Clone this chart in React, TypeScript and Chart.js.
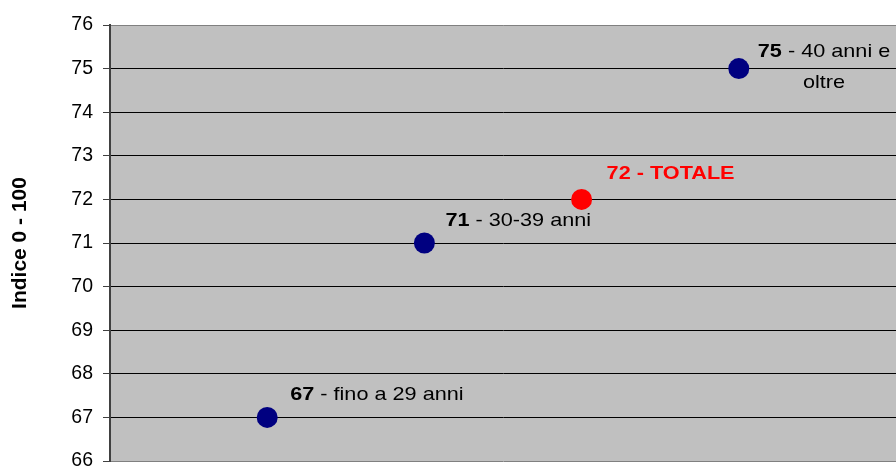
import React, { useEffect, useRef } from "react";
import { Chart, registerables } from "chart.js";

Chart.register(...registerables);

const xPositions = [1, 2, 3, 4];
const values = [67, 71, 72, 75];
const valueLabels = ["67", "71", "72", "75"];
const descriptionLines = [["fino a 29 anni"], ["30-39 anni"], ["TOTALE"], ["40 anni e", "oltre"]];
const highlightIndex = 2;
const yTicks = [66, 67, 68, 69, 70, 71, 72, 73, 74, 75, 76];
const yTitle = "Indice 0 - 100";

const NAVY = "#000080";
const RED = "#FF0000";
const FONT = "'Liberation Sans', Arial, sans-serif";

// label placement (style): offset of label block start from point, and line centres
const labelStyle = [
  { dx: 23, dy: [-23] },
  { dx: 21, dy: [-22] },
  { dx: 25, dy: [-26] },
  { dx: 19, dy: [-17, 14] },
];
const LABEL_SIZE = 19;
const LABEL_STRETCH = 1.14;

const bgPlugin = {
  id: "plotBg",
  beforeDraw(chart: any) {
    const { ctx, chartArea } = chart;
    ctx.save();
    ctx.fillStyle = "#C0C0C0";
    ctx.fillRect(chartArea.left, chartArea.top, chartArea.right - chartArea.left, chartArea.bottom - chartArea.top);
    ctx.restore();
  },
};

const labelPlugin = {
  id: "pointLabels",
  afterDatasetsDraw(chart: any) {
    const { ctx } = chart;
    const meta = chart.getDatasetMeta(0);
    ctx.save();
    ctx.textBaseline = "middle";
    ctx.textAlign = "left";
    const bold = `bold ${LABEL_SIZE}px ${FONT}`;
    const normal = `${LABEL_SIZE}px ${FONT}`;
    meta.data.forEach((pt: any, i: number) => {
      const st = labelStyle[i];
      const isHi = i === highlightIndex;
      const lines = descriptionLines[i];
      const segs: { text: string; font: string }[][] = lines.map((ln, li) => {
        if (li === 0) {
          if (isHi) return [{ text: `${valueLabels[i]} - ${ln}`, font: bold }];
          return [
            { text: valueLabels[i], font: bold },
            { text: ` - ${ln}`, font: normal },
          ];
        }
        return [{ text: ln, font: isHi ? bold : normal }];
      });
      const widths = segs.map((s) =>
        s.reduce((w, seg) => {
          ctx.font = seg.font;
          return w + ctx.measureText(seg.text).width;
        }, 0)
      );
      const blockW = Math.max(...widths);
      const startX = pt.x + st.dx;
      segs.forEach((s, li) => {
        let x = (blockW - widths[li]) / 2;
        const y = pt.y + st.dy[li];
        ctx.save();
        ctx.translate(startX, y);
        ctx.scale(LABEL_STRETCH, 1);
        s.forEach((seg) => {
          ctx.font = seg.font;
          ctx.fillStyle = isHi ? RED : "#000";
          ctx.fillText(seg.text, x, 0);
          x += ctx.measureText(seg.text).width;
        });
        ctx.restore();
      });
    });
    ctx.restore();
  },
};

export default function App() {
  const ref = useRef<HTMLCanvasElement>(null);
  useEffect(() => {
    document.body.style.margin = "0";
    const canvas = ref.current!;
    const chart = new Chart(canvas, {
      type: "scatter",
      data: {
        datasets: [
          {
            data: xPositions.map((x, i) => ({ x, y: values[i] })),
            backgroundColor: values.map((_, i) => (i === highlightIndex ? RED : NAVY)),
            borderColor: values.map((_, i) => (i === highlightIndex ? RED : NAVY)),
            pointRadius: 10.5,
            pointHoverRadius: 10.5,
            borderWidth: 0,
            clip: false,
          },
        ],
      },
      options: {
        animation: false,
        responsive: false,
        maintainAspectRatio: false,
        layout: { autoPadding: false, padding: { top: 25, bottom: 7, left: 0, right: 0 } },
        plugins: { legend: { display: false }, tooltip: { enabled: false } },
        scales: {
          x: { type: "linear", min: 0, max: 5, display: false },
          y: {
            type: "linear",
            min: 66,
            max: 76,
            afterBuildTicks: (scale: any) => {
              scale.ticks = yTicks.map((v) => ({ value: v }));
            },
            afterFit: (scale: any) => {
              scale.width = 110;
              scale.paddingTop = 0;
              scale.paddingBottom = 0;
            },
            ticks: {
              stepSize: 1,
              color: "#000",
              padding: 10,
              font: { family: FONT, size: 19.5 },
            },
            grid: {
              color: (c: any) => (c.index === 0 || c.index === yTicks.length - 1 ? "#808080" : "#000"),
              tickColor: "#404040",
              tickLength: 7,
              lineWidth: 1,
            },
            border: { display: true, color: "#404040", width: 2 },
            title: {
              display: true,
              text: yTitle,
              color: "#000",
              font: { family: FONT, size: 21, weight: "bold" },
              padding: { top: 8, bottom: 0 },
            },
          },
        },
      },
      plugins: [bgPlugin, labelPlugin],
    });
    return () => chart.destroy();
  }, []);
  return (
    <div style={{ width: 896, height: 468 }}>
      <canvas ref={ref} width={896} height={468} style={{ display: "block" }} />
    </div>
  );
}
